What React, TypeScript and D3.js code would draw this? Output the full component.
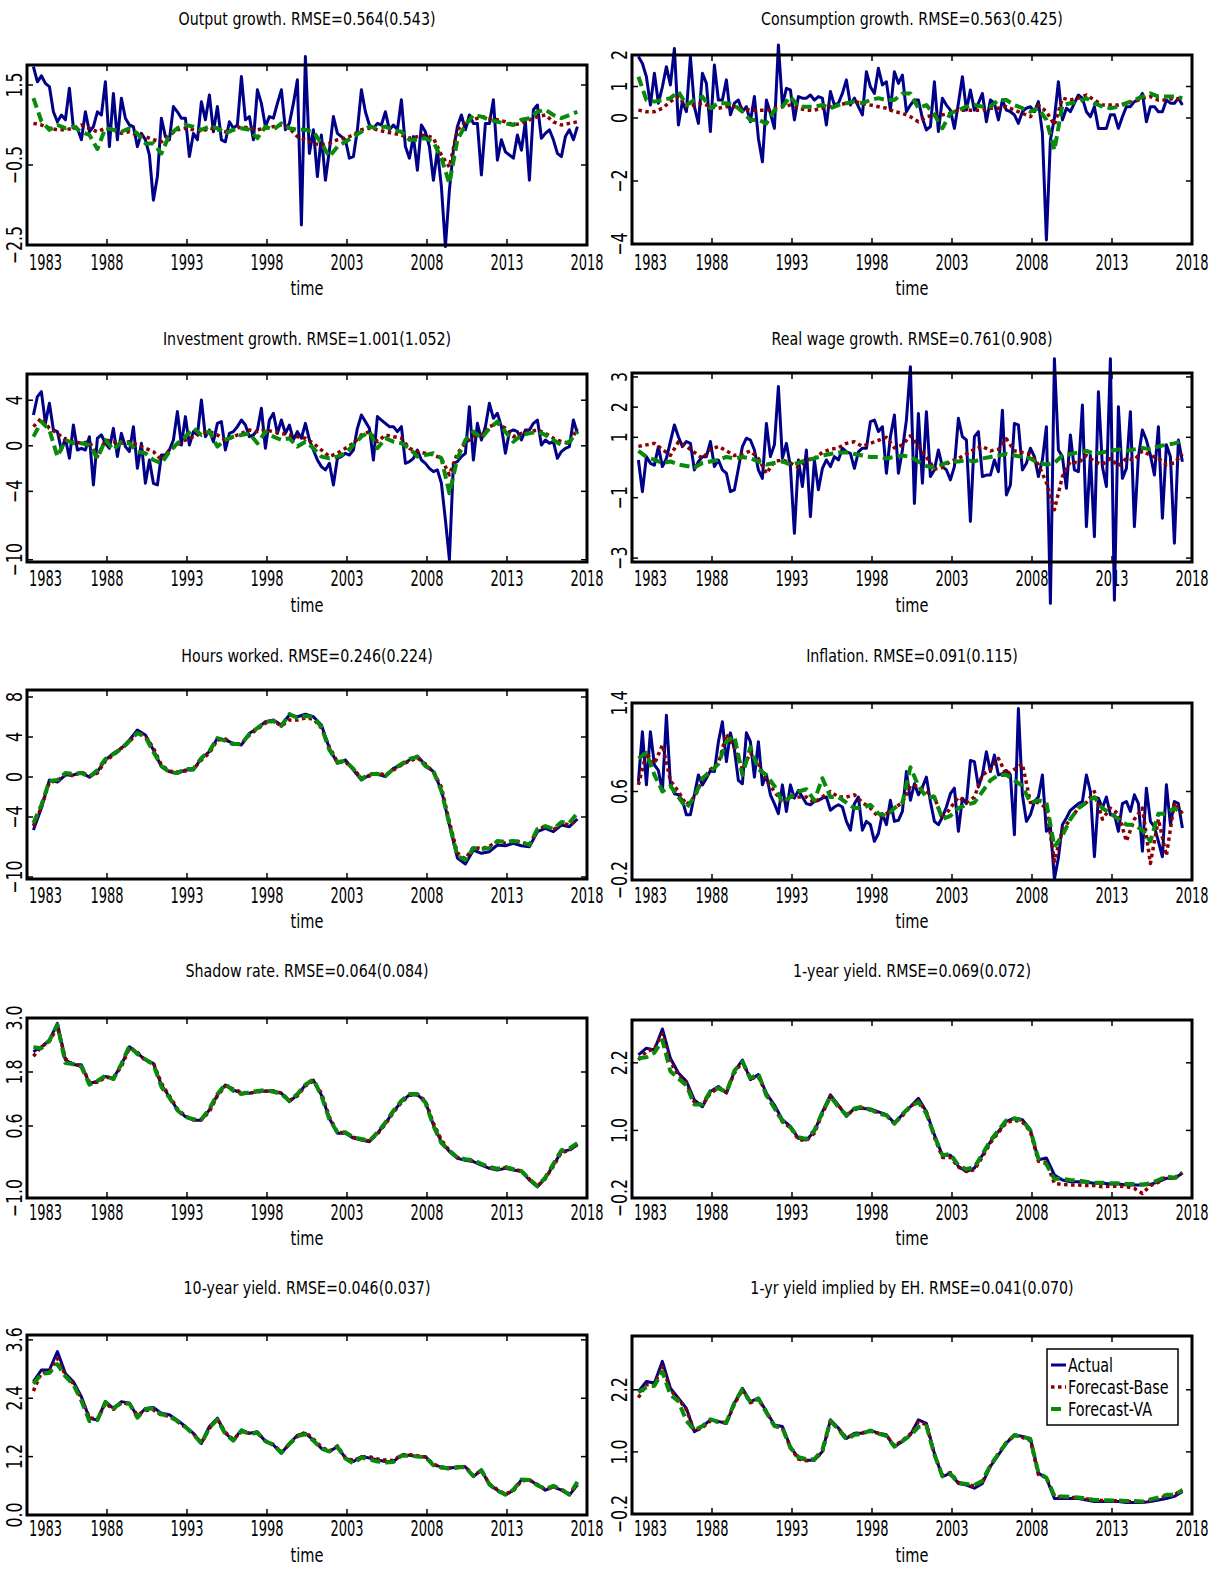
import React from 'react';
import * as d3 from 'd3';

// sample runs 1983Q2..2017Q2; growth series are quarterly readings, forecasts / smooth series half-yearly
const FIRST_DATE = 1983.4;
const LAST_DATE = 2017.4;
const xTickYears = [1983, 1988, 1993, 1998, 2003, 2008, 2013, 2018];

const outputActual = [
  1.96, 1.58, 1.73, 1.54, 1.46, 0.83, 0.58, 0.75,
  0.63, 1.42, 0.42, 0.42, 0.13, 0.83, 0.33, 0.46,
  0.83, 0.75, 1.58, -0.04, 1.29, 0.13, 1.17, 0.67,
  0.50, 0.46, -0.04, 0.29, 0.13, -0.25, -1.38, -0.79,
  0.67, 0.21, 0.13, 0.96, 0.83, 0.67, 0.67, -0.29,
  0.29, 0.13, 1.08, 0.63, 1.25, 0.33, 0.96, 0.13,
  0.08, 0.58, 0.42, 0.50, 1.71, 0.63, 0.71, 0.13,
  1.38, 1.04, 0.46, 0.71, 0.67, 1.04, 1.38, 0.38,
  0.54, 1.04, 1.63, -2.00, 2.21, -0.21, 0.38, -0.79,
  0.25, -0.88, -0.13, 0.71, 0.29, 0.21, 0.13, -0.33,
  -0.29, 0.38, 1.38, 0.83, 0.50, 0.42, 0.54, 0.50,
  0.83, 0.38, 0.50, 0.38, 1.13, -0.04, -0.33, 0.21,
  -0.63, 0.50, 0.33, -0.04, -0.88, -0.13, -1.04, -2.54,
  -1.13, -0.13, 0.46, 0.75, 0.38, 0.75, 0.54, 0.54,
  -0.75, 0.54, 0.54, 1.13, -0.38, 0.13, -0.17, -0.25,
  -0.33, 0.25, -0.13, 0.58, -0.88, 0.88, 1.00, 0.17,
  0.29, 0.38, 0.13, -0.21, -0.29, 0.21, 0.38, 0.13,
  0.46,
];
const outputBase = [
  0.54, 0.50, 0.42, 0.38, 0.38, 0.42, 0.50, 0.42, 0.33, 0.42,
  0.38, 0.29, 0.33, 0.25, 0.21, 0.13, 0.08, 0.25, 0.38, 0.42,
  0.38, 0.33, 0.42, 0.38, 0.33, 0.38, 0.46, 0.42, 0.38, 0.42,
  0.46, 0.50, 0.42, 0.21, 0.13, 0.04, 0.00, 0.04, 0.13, 0.17,
  0.25, 0.38, 0.42, 0.38, 0.33, 0.29, 0.25, 0.17, 0.21, 0.25,
  0.17, -0.25, -0.55, 0.38, 0.58, 0.63, 0.71, 0.67, 0.63, 0.58,
  0.50, 0.54, 0.63, 0.71, 0.75, 0.58, 0.50, 0.54, 0.58,
];
const outputVA = [
  1.17, 0.60, 0.38, 0.50, 0.42, 0.46, 0.33, 0.25, -0.10, 0.42,
  0.38, 0.33, 0.42, 0.29, 0.04, 0.04, -0.21, 0.25, 0.42, 0.50,
  0.46, 0.38, 0.46, 0.42, 0.29, 0.38, 0.42, 0.38, 0.17, 0.46,
  0.38, 0.54, 0.42, 0.38, 0.38, 0.33, 0.04, -0.29, -0.04, 0.08,
  0.21, 0.33, 0.46, 0.42, 0.46, 0.38, 0.33, 0.13, 0.13, 0.17,
  0.08, -0.33, -0.96, 0.13, 0.50, 0.75, 0.71, 0.63, 0.58, 0.54,
  0.50, 0.63, 0.67, 0.83, 0.88, 0.75, 0.67, 0.75, 0.83,
];

const consumptionActual = [
  1.95, 1.73, 1.31, 0.41, 1.42, 0.47, 0.99, 1.63,
  1.05, 2.21, -0.22, 0.52, 0.20, 1.95, 0.36, -0.17,
  1.42, 1.10, -0.43, 1.68, 0.57, 0.57, 1.21, 0.10,
  0.47, 0.57, 0.20, 0.36, -0.12, 0.68, -0.65, -1.39,
  0.57, 0.15, -0.33, 2.32, 0.41, 0.94, 0.89, -0.06,
  0.68, 0.63, 0.63, 0.73, 0.57, 0.68, 0.63, -0.22,
  0.84, 0.41, 0.47, 0.78, 1.21, 0.41, 0.63, 0.36,
  0.10, 1.47, 0.99, 0.78, 1.58, 1.05, 1.15, 0.25,
  1.47, 1.10, 1.36, 0.20, 0.41, 0.57, 0.57, -0.01,
  -0.38, -0.27, 1.15, -0.43, 0.63, 0.41, 0.25, -0.33,
  0.47, 1.31, 0.25, 0.89, 0.25, 0.47, 0.78, -0.12,
  0.57, 0.47, -0.06, 0.57, 0.25, 0.20, 0.10, -0.17,
  0.20, 0.31, 0.36, 0.20, 0.52, -0.49, -3.87, -0.70,
  -0.01, 1.15, -0.06, 0.31, 0.20, 0.47, 0.73, 0.63,
  0.20, 0.04, 0.36, -0.33, -0.33, -0.33, 0.10, 0.10,
  -0.33, 0.04, 0.36, 0.36, 0.52, 0.57, 0.78, -0.12,
  0.36, 0.36, 0.20, 0.20, 0.57, 0.47, 0.47, 0.63,
  0.41,
];
const consumptionBase = [
  0.25, 0.20, 0.20, 0.31, 0.52, 0.68, 0.36, 0.41, 0.47, 0.36,
  0.31, 0.36, 0.36, 0.31, 0.25, 0.25, 0.25, 0.31, 0.36, 0.41,
  0.31, 0.25, 0.25, 0.31, 0.36, 0.41, 0.47, 0.52, 0.47, 0.41,
  0.36, 0.31, 0.20, 0.15, 0.04, -0.12, 0.04, 0.10, 0.10, 0.15,
  0.25, 0.25, 0.25, 0.25, 0.31, 0.31, 0.36, 0.25, 0.15, 0.04,
  0.41, 0.20, -0.22, 0.63, 0.57, 0.63, 0.73, 0.57, 0.41, 0.41,
  0.41, 0.47, 0.52, 0.63, 0.68, 0.57, 0.57, 0.63, 0.57,
];
const consumptionVA = [
  1.31, 0.57, 0.52, 0.57, 0.63, 0.84, 0.41, 0.57, 0.68, 0.31,
  0.47, 0.47, 0.41, 0.20, -0.06, -0.06, -0.17, 0.25, 0.36, 0.68,
  0.36, 0.36, 0.36, 0.41, 0.31, 0.41, 0.47, 0.52, 0.47, 0.57,
  0.63, 0.57, 0.57, 0.78, 0.78, 0.31, 0.41, 0.10, -0.33, 0.15,
  0.25, 0.36, 0.41, 0.36, 0.36, 0.57, 0.57, 0.41, 0.31, 0.20,
  0.31, -0.06, -1.02, 0.41, 0.47, 0.52, 0.63, 0.47, 0.36, 0.31,
  0.36, 0.47, 0.57, 0.68, 0.78, 0.68, 0.68, 0.68, 0.63,
];

const investmentActual = [
  2.70, 4.31, 4.75, 1.97, 3.73, 1.39, 1.24, -0.37,
  0.66, -1.10, 1.82, -0.37, -0.22, -0.37, 0.80, -3.44,
  0.66, 0.95, 0.22, -0.22, 1.53, -0.95, 1.09, -0.07,
  -0.51, 1.68, -1.98, 0.22, -3.29, -1.25, -3.29, -3.44,
  -0.81, -0.81, -0.37, 0.51, 3.00, 0.07, 2.56, 0.07,
  1.24, 0.95, 4.02, 0.80, 1.39, 0.36, 1.97, 2.12,
  -0.37, 1.09, 1.24, 1.68, 2.26, 1.82, 0.80, 0.95,
  1.39, 3.29, -0.22, 2.26, 2.85, 1.09, 2.26, 1.09,
  1.82, 0.51, 1.24, 0.66, 1.97, 0.51, -0.37, -1.25,
  -1.83, -2.12, -1.54, -3.44, -1.10, -0.95, -0.66, -0.81,
  -0.37, 1.53, 2.70, 2.12, 1.53, -1.25, 2.56, 2.26,
  1.97, 1.68, 1.68, 1.24, 1.68, -1.54, -1.39, -1.10,
  -0.37, -1.25, -1.54, -1.98, -2.27, -2.12, -3.29, -6.51,
  -10.0, -1.54, -1.39, -0.95, -0.66, 3.43, -1.25, 1.97,
  0.51, 1.68, 3.73, 2.41, 2.85, 1.68, -0.66, 1.24,
  1.39, 1.24, 0.51, 1.39, 1.39, 1.97, 2.26, 0.07,
  0.51, 0.22, 0.36, -1.10, -0.51, -0.22, -0.07, 2.26,
  1.09,
];
const investmentBase = [
  1.68, 2.41, 1.53, 1.09, 0.51, 0.36, 0.22, 0.36, -0.95, 0.51,
  0.36, 0.22, 0.36, 0.07, -0.22, -0.51, -1.25, -0.37, 0.07, 0.51,
  0.80, 1.09, 1.24, 0.95, 0.51, 0.80, 1.09, 1.39, 1.24, 1.39,
  1.24, 1.09, 0.95, 0.80, 0.66, 0.22, -0.37, -0.95, -0.66, -0.22,
  0.22, 0.95, 1.24, 0.36, 0.95, 0.80, 0.66, -0.22, -0.51, -0.66,
  -0.81, -1.10, -2.56, -0.66, 0.22, 0.80, 0.95, 1.68, 1.97, 1.53,
  0.80, 1.09, 1.24, 1.39, 1.09, 0.66, 0.36, 0.22, 1.53,
];
const investmentVA = [
  0.80, 2.12, 1.39, -0.95, 0.51, 0.22, 0.22, 0.07, -1.10, 0.51,
  -0.37, 0.36, 0.22, -0.51, -0.66, -1.25, -1.54, -0.51, 0.22, 0.80,
  1.53, 0.95, 1.24, -0.07, 0.51, 0.80, 0.95, 1.09, 0.22, 1.24,
  0.80, 0.51, 0.66, -0.07, 0.36, -0.22, -0.95, -1.10, -0.95, -0.66,
  0.07, 0.80, 1.24, -0.22, 0.66, 0.36, 0.22, -0.22, -0.95, -0.81,
  -0.66, -1.10, -4.17, -1.10, 0.51, 1.24, 0.66, 1.53, 2.12, 1.24,
  0.36, 0.95, 1.09, 1.24, 0.95, 0.51, 0.07, 0.36, 1.24,
];

const realWageActual = [
  0.25, -0.80, 0.36, 0.14, 0.08, 0.69, 0.03, 0.30,
  0.86, 1.41, 1.02, 0.69, 0.86, 0.80, -0.08, 0.19,
  0.36, 0.36, 0.86, 0.03, 0.25, -0.08, -0.19, -0.80,
  -0.74, -0.03, 0.69, 0.97, 0.91, 0.58, -0.08, -0.36,
  1.46, 0.36, 0.75, 2.68, 0.30, 0.80, 0.03, -2.18,
  0.25, -0.63, 0.58, -1.63, 0.25, -0.74, -0.03, 0.25,
  0.03, 0.36, 0.25, 0.64, 0.52, 0.47, -0.03, 0.52,
  0.64, 0.64, 1.52, 1.57, 1.19, 1.35, -0.19, 1.02,
  1.74, -0.19, 0.58, 1.57, 3.34, -1.19, 1.79, -0.52,
  1.85, -0.30, -0.08, 0.58, 0.03, -0.08, -0.41, 0.03,
  1.63, 1.02, 0.91, -1.79, 1.02, 1.19, -0.30, -0.25,
  -0.25, 0.25, -0.14, 1.90, -0.91, -0.58, 1.46, 1.41,
  -0.08, 0.14, 0.64, 0.36, -0.30, 0.25, 1.35, -4.50,
  3.60, 0.58, 0.36, -0.69, 1.08, -0.08, -0.14, 2.07,
  -1.96, 0.41, -2.29, 2.51, 0.03, -0.63, 3.60, -4.40,
  2.01, -0.36, -0.03, 1.85, -1.96, 0.36, 1.24, 0.91,
  0.41, -0.25, 1.35, -1.68, 0.75, 0.36, -2.51, 0.91,
  0.19,
];
const realWageBase = [
  0.70, 0.75, 0.80, 0.60, 0.40, 0.85, 0.70, 0.50, 0.30, 0.60,
  0.70, 0.55, 0.40, 0.45, 0.55, 0.30, -0.20, 0.20, 0.25, 0.15,
  0.00, 0.25, 0.30, 0.50, 0.60, 0.65, 0.80, 0.85, 0.70, 0.80,
  0.90, 1.00, 0.65, 0.75, 1.05, 0.70, 0.35, -0.05, 0.00, 0.20,
  0.30, 0.45, 0.60, 0.70, 0.55, 0.60, 0.95, 0.55, 0.50, 0.45,
  0.10, -0.50, -1.40, -0.30, 0.20, 0.15, 0.40, 0.20, 0.10, 0.30,
  0.05, 0.30, 0.25, 0.55, 0.40, 0.30, 0.10, 0.15, 0.45,
];
const realWageVA = [
  0.55, 0.35, 0.25, 0.15, 0.20, 0.10, 0.05, 0.00, 0.15, 0.20,
  0.25, 0.35, 0.30, 0.35, 0.30, 0.20, 0.10, 0.15, 0.20, 0.10,
  0.15, 0.25, 0.30, 0.40, 0.45, 0.50, 0.50, 0.45, 0.40, 0.35,
  0.35, 0.30, 0.35, 0.40, 0.35, 0.20, 0.05, 0.00, 0.10, 0.20,
  0.20, 0.25, 0.20, 0.30, 0.35, 0.40, 0.45, 0.40, 0.35, 0.30,
  0.15, 0.10, 0.15, 0.40, 0.45, 0.50, 0.55, 0.45, 0.50, 0.55,
  0.60, 0.55, 0.60, 0.65, 0.60, 0.70, 0.75, 0.80, 0.88,
];

const hoursActual = [
  -5.30, -3.10, -0.30, -0.50, 0.20, 0.20, 0.47, -0.03, 0.53, 1.70,
  2.37, 2.87, 3.70, 4.70, 4.20, 2.70, 1.03, 0.53, 0.37, 0.70,
  0.70, 1.87, 2.53, 3.87, 3.70, 3.37, 3.20, 4.37, 4.87, 5.53,
  5.70, 5.20, 6.20, 6.03, 6.27, 6.03, 5.20, 2.87, 1.37, 1.70,
  0.70, -0.30, 0.20, 0.30, 0.03, 0.87, 1.20, 1.70, 2.10, 1.20,
  0.53, -1.30, -4.80, -8.10, -8.70, -7.30, -7.63, -7.47, -6.80, -6.87,
  -6.63, -6.87, -6.97, -5.47, -5.13, -5.47, -4.80, -4.97, -4.20,
];
const hoursBase = [
  -4.90, -3.00, -0.50, -0.40, 0.30, 0.10, 0.50, 0.10, 0.40, 1.60,
  2.20, 2.90, 3.50, 4.50, 4.10, 2.90, 1.20, 0.60, 0.50, 0.60,
  0.80, 1.70, 2.40, 3.70, 3.80, 3.20, 3.30, 4.20, 4.80, 5.40,
  5.60, 5.10, 5.70, 5.70, 5.90, 5.80, 4.90, 3.00, 1.50, 1.50,
  0.80, -0.10, 0.10, 0.40, 0.20, 0.70, 1.20, 1.60, 1.90, 1.30,
  0.50, -1.00, -4.50, -7.60, -8.20, -7.00, -7.20, -6.90, -6.50, -6.60,
  -6.40, -6.50, -6.80, -5.30, -4.90, -5.30, -4.60, -4.80, -4.30,
];
const hoursVA = [
  -4.60, -2.80, -0.40, -0.30, 0.40, 0.30, 0.40, 0.00, 0.70, 1.80,
  2.30, 2.80, 3.60, 4.40, 4.00, 2.50, 1.10, 0.50, 0.40, 0.80,
  0.80, 1.90, 2.60, 3.90, 3.60, 3.30, 3.30, 4.30, 4.90, 5.50,
  5.60, 5.10, 6.30, 5.90, 6.10, 6.00, 5.00, 2.70, 1.50, 1.60,
  0.80, -0.20, 0.30, 0.30, 0.10, 0.80, 1.30, 1.80, 2.00, 1.10,
  0.60, -1.40, -4.70, -7.90, -8.30, -7.10, -7.20, -7.10, -6.40, -6.50,
  -6.40, -6.50, -6.80, -5.20, -4.90, -5.20, -4.50, -4.60, -3.60,
];

const inflationActual = [
  0.69, 1.14, 0.66, 1.14, 0.84, 0.79, 0.60, 1.29,
  0.67, 0.58, 0.57, 0.52, 0.39, 0.39, 0.57, 0.75,
  0.66, 0.72, 0.79, 0.78, 1.05, 1.23, 0.87, 1.13,
  0.98, 0.70, 0.67, 1.13, 1.05, 0.73, 1.05, 0.66,
  0.75, 0.57, 0.49, 0.40, 0.66, 0.42, 0.66, 0.54,
  0.61, 0.55, 0.49, 0.48, 0.51, 0.52, 0.54, 0.55,
  0.43, 0.46, 0.48, 0.46, 0.33, 0.25, 0.49, 0.55,
  0.25, 0.33, 0.30, 0.15, 0.22, 0.40, 0.30, 0.52,
  0.33, 0.34, 0.42, 0.78, 0.52, 0.67, 0.57, 0.64,
  0.73, 0.51, 0.33, 0.30, 0.37, 0.46, 0.58, 0.63,
  0.24, 0.54, 0.49, 0.88, 0.87, 0.64, 0.75, 0.96,
  0.78, 0.93, 0.75, 0.76, 0.79, 0.75, 0.21, 1.35,
  0.57, 0.33, 0.39, 0.51, 0.55, 0.75, 0.24, 0.28,
  -0.19, 0.00, 0.30, 0.36, 0.43, 0.46, 0.49, 0.51,
  0.75, 0.60, 0.01, 0.54, 0.45, 0.55, 0.39, 0.39,
  0.24, 0.49, 0.51, 0.42, 0.57, 0.49, 0.06, 0.63,
  0.33, 0.28, 0.15, 0.01, 0.66, 0.30, 0.51, 0.49,
  0.27,
];
const inflationBase = [
  0.66, 0.95, 0.85, 1.02, 0.70, 0.60, 0.48, 0.55, 0.70, 0.80,
  0.85, 1.12, 1.00, 0.80, 0.95, 0.85, 0.70, 0.60, 0.50, 0.55,
  0.55, 0.55, 0.50, 0.55, 0.60, 0.55, 0.55, 0.57, 0.50, 0.45,
  0.37, 0.40, 0.45, 0.50, 0.65, 0.65, 0.60, 0.55, 0.35, 0.45,
  0.55, 0.50, 0.55, 0.75, 0.80, 0.90, 0.75, 0.80, 0.85, 0.50,
  0.50, 0.45, -0.03, 0.25, 0.35, 0.45, 0.50, 0.60, 0.35, 0.45,
  0.40, 0.15, 0.35, 0.45, -0.05, 0.35, 0.02, 0.50, 0.40,
];
const inflationVA = [
  0.90, 0.95, 0.75, 0.60, 0.65, 0.55, 0.45, 0.55, 0.72, 0.78,
  0.85, 1.05, 1.10, 0.75, 1.00, 0.80, 0.75, 0.65, 0.50, 0.55,
  0.60, 0.62, 0.52, 0.72, 0.55, 0.55, 0.50, 0.45, 0.45, 0.48,
  0.40, 0.38, 0.45, 0.50, 0.82, 0.65, 0.55, 0.55, 0.35, 0.38,
  0.45, 0.48, 0.50, 0.60, 0.70, 0.75, 0.75, 0.70, 0.65, 0.50,
  0.52, 0.50, 0.10, 0.20, 0.35, 0.45, 0.50, 0.55, 0.45, 0.40,
  0.35, 0.30, 0.30, 0.25, 0.15, 0.40, 0.40, 0.45, 0.40,
];

const shadowActual = [
  2.25, 2.36, 2.51, 2.88, 2.07, 1.96, 1.96, 1.55, 1.59, 1.70,
  1.66, 1.96, 2.36, 2.22, 2.07, 1.99, 1.51, 1.25, 0.96, 0.81,
  0.73, 0.73, 0.96, 1.29, 1.51, 1.40, 1.33, 1.33, 1.36, 1.38,
  1.38, 1.33, 1.14, 1.29, 1.51, 1.62, 1.29, 0.77, 0.44, 0.44,
  0.33, 0.29, 0.25, 0.44, 0.66, 0.92, 1.14, 1.29, 1.29, 1.14,
  0.62, 0.25, 0.03, -0.12, -0.16, -0.19, -0.27, -0.34, -0.38, -0.34,
  -0.38, -0.41, -0.60, -0.75, -0.56, -0.27, 0.03, 0.07, 0.18,
];
const shadowBase = [
  2.15, 2.36, 2.48, 2.80, 2.10, 1.96, 1.94, 1.58, 1.57, 1.68,
  1.68, 1.92, 2.33, 2.24, 2.05, 2.00, 1.55, 1.27, 0.98, 0.82,
  0.74, 0.74, 0.92, 1.27, 1.49, 1.42, 1.35, 1.33, 1.36, 1.37,
  1.38, 1.33, 1.17, 1.27, 1.49, 1.60, 1.33, 0.80, 0.46, 0.45,
  0.35, 0.30, 0.27, 0.42, 0.64, 0.90, 1.12, 1.28, 1.30, 1.16,
  0.66, 0.29, 0.05, -0.10, -0.15, -0.18, -0.25, -0.33, -0.36, -0.33,
  -0.36, -0.40, -0.58, -0.73, -0.57, -0.29, 0.01, 0.06, 0.20,
];
const shadowVA = [
  2.35, 2.33, 2.50, 2.85, 2.00, 1.98, 1.92, 1.52, 1.60, 1.72,
  1.64, 1.98, 2.38, 2.20, 2.08, 1.97, 1.47, 1.23, 0.95, 0.80,
  0.75, 0.75, 0.98, 1.31, 1.53, 1.38, 1.31, 1.35, 1.38, 1.40,
  1.36, 1.31, 1.16, 1.31, 1.52, 1.64, 1.27, 0.75, 0.46, 0.46,
  0.35, 0.31, 0.27, 0.46, 0.68, 0.94, 1.16, 1.31, 1.31, 1.12,
  0.60, 0.22, 0.05, -0.10, -0.14, -0.16, -0.24, -0.31, -0.35, -0.31,
  -0.36, -0.40, -0.58, -0.74, -0.54, -0.24, 0.06, 0.10, 0.22,
];

const oneYearActual = [
  2.34, 2.46, 2.43, 2.80, 2.28, 2.02, 1.87, 1.54, 1.42, 1.69,
  1.78, 1.66, 2.05, 2.25, 1.90, 1.99, 1.66, 1.45, 1.19, 1.07,
  0.86, 0.83, 0.98, 1.33, 1.63, 1.45, 1.25, 1.39, 1.39, 1.38,
  1.33, 1.28, 1.13, 1.28, 1.42, 1.57, 1.33, 0.92, 0.56, 0.56,
  0.36, 0.27, 0.33, 0.56, 0.80, 0.98, 1.16, 1.22, 1.19, 1.01,
  0.48, 0.51, 0.21, 0.12, 0.09, 0.09, 0.08, 0.06, 0.06, 0.05,
  0.05, 0.03, 0.03, 0.03, 0.04, 0.09, 0.15, 0.15, 0.24,
];
const oneYearBase = [
  2.25, 2.40, 2.45, 2.72, 2.22, 1.98, 1.85, 1.50, 1.45, 1.66,
  1.75, 1.68, 2.02, 2.22, 1.92, 1.95, 1.65, 1.40, 1.15, 1.05,
  0.84, 0.82, 0.95, 1.30, 1.60, 1.44, 1.27, 1.37, 1.40, 1.36,
  1.32, 1.27, 1.12, 1.26, 1.42, 1.53, 1.33, 0.88, 0.52, 0.52,
  0.35, 0.27, 0.30, 0.53, 0.78, 0.96, 1.14, 1.18, 1.15, 0.98,
  0.45, 0.43, 0.06, 0.04, 0.03, 0.03, 0.02, 0.02, 0.00, 0.01,
  0.01, 0.00, -0.03, -0.12, 0.02, 0.08, 0.18, 0.14, 0.25,
];
const oneYearVA = [
  2.28, 2.30, 2.38, 2.60, 2.05, 1.92, 1.80, 1.46, 1.46, 1.70,
  1.75, 1.68, 2.06, 2.22, 1.93, 2.00, 1.62, 1.40, 1.17, 1.05,
  0.88, 0.85, 1.00, 1.32, 1.60, 1.42, 1.27, 1.39, 1.42, 1.37,
  1.30, 1.27, 1.12, 1.29, 1.43, 1.50, 1.30, 0.90, 0.56, 0.58,
  0.38, 0.31, 0.35, 0.58, 0.82, 1.00, 1.18, 1.21, 1.18, 1.00,
  0.50, 0.40, 0.14, 0.14, 0.12, 0.11, 0.09, 0.07, 0.07, 0.06,
  0.06, 0.05, 0.05, 0.04, 0.06, 0.12, 0.18, 0.16, 0.25,
];

const tenYearActual = [
  2.74, 2.98, 2.98, 3.36, 2.91, 2.74, 2.43, 1.99, 1.95, 2.33,
  2.19, 2.33, 2.30, 2.02, 2.19, 2.21, 2.09, 2.06, 1.95, 1.82,
  1.68, 1.47, 1.82, 1.99, 1.68, 1.54, 1.75, 1.68, 1.71, 1.51,
  1.44, 1.27, 1.47, 1.64, 1.68, 1.54, 1.37, 1.30, 1.41, 1.17,
  1.10, 1.20, 1.17, 1.13, 1.10, 1.10, 1.23, 1.23, 1.20, 1.20,
  1.03, 0.99, 0.96, 0.99, 0.99, 0.79, 0.93, 0.62, 0.51, 0.41,
  0.51, 0.72, 0.72, 0.62, 0.51, 0.58, 0.51, 0.41, 0.62,
];
const tenYearBase = [
  2.55, 2.92, 2.95, 3.22, 2.88, 2.70, 2.40, 2.00, 1.97, 2.30,
  2.17, 2.31, 2.28, 2.05, 2.15, 2.16, 2.05, 2.04, 1.92, 1.80,
  1.67, 1.48, 1.78, 1.97, 1.70, 1.55, 1.72, 1.68, 1.70, 1.52,
  1.45, 1.29, 1.45, 1.62, 1.70, 1.56, 1.40, 1.31, 1.42, 1.18,
  1.12, 1.19, 1.20, 1.15, 1.13, 1.12, 1.24, 1.24, 1.22, 1.19,
  1.05, 0.97, 0.97, 0.97, 1.00, 0.80, 0.92, 0.64, 0.52, 0.43,
  0.50, 0.70, 0.72, 0.63, 0.52, 0.58, 0.52, 0.43, 0.62,
];
const tenYearVA = [
  2.70, 2.90, 2.92, 3.10, 2.85, 2.68, 2.35, 1.93, 1.95, 2.32,
  2.20, 2.30, 2.29, 2.00, 2.18, 2.19, 2.07, 2.03, 1.93, 1.81,
  1.66, 1.47, 1.80, 1.96, 1.66, 1.53, 1.73, 1.67, 1.69, 1.52,
  1.44, 1.28, 1.46, 1.62, 1.66, 1.53, 1.36, 1.31, 1.40, 1.16,
  1.06, 1.18, 1.14, 1.10, 1.08, 1.09, 1.22, 1.22, 1.20, 1.19,
  1.02, 0.98, 0.95, 0.98, 0.98, 0.80, 0.92, 0.63, 0.50, 0.42,
  0.52, 0.73, 0.72, 0.61, 0.54, 0.60, 0.53, 0.42, 0.68,
];

const ehActual = [
  2.17, 2.36, 2.33, 2.75, 2.23, 2.04, 1.84, 1.39, 1.49, 1.62,
  1.59, 1.55, 1.94, 2.23, 1.97, 2.04, 1.78, 1.52, 1.49, 1.10,
  0.88, 0.84, 0.84, 1.01, 1.62, 1.46, 1.26, 1.36, 1.36, 1.42,
  1.36, 1.33, 1.10, 1.20, 1.33, 1.62, 1.55, 0.97, 0.52, 0.59,
  0.39, 0.36, 0.30, 0.39, 0.72, 0.94, 1.17, 1.33, 1.30, 1.26,
  0.59, 0.49, 0.10, 0.10, 0.10, 0.10, 0.07, 0.04, 0.04, 0.04,
  0.04, 0.02, 0.02, 0.02, 0.04, 0.07, 0.10, 0.14, 0.23,
];
const ehBase = [
  2.05, 2.30, 2.30, 2.65, 2.20, 2.02, 1.82, 1.40, 1.47, 1.60,
  1.58, 1.56, 1.92, 2.20, 1.95, 2.02, 1.78, 1.50, 1.47, 1.08,
  0.86, 0.83, 0.85, 1.00, 1.58, 1.45, 1.27, 1.35, 1.37, 1.40,
  1.36, 1.32, 1.12, 1.22, 1.35, 1.58, 1.53, 0.95, 0.55, 0.60,
  0.41, 0.37, 0.34, 0.42, 0.73, 0.96, 1.18, 1.32, 1.28, 1.22,
  0.56, 0.50, 0.14, 0.12, 0.12, 0.11, 0.09, 0.07, 0.06, 0.06,
  0.05, 0.04, 0.04, 0.03, 0.06, 0.10, 0.15, 0.17, 0.27,
];
const ehVA = [
  2.15, 2.25, 2.28, 2.55, 2.10, 1.98, 1.60, 1.42, 1.50, 1.63,
  1.58, 1.57, 1.95, 2.21, 1.96, 2.03, 1.76, 1.50, 1.46, 1.08,
  0.90, 0.86, 0.86, 1.04, 1.60, 1.44, 1.24, 1.33, 1.35, 1.41,
  1.35, 1.31, 1.10, 1.21, 1.32, 1.48, 1.50, 0.95, 0.53, 0.57,
  0.40, 0.38, 0.36, 0.44, 0.74, 0.96, 1.18, 1.32, 1.30, 1.24,
  0.60, 0.50, 0.15, 0.14, 0.13, 0.12, 0.10, 0.07, 0.07, 0.06,
  0.06, 0.05, 0.05, 0.04, 0.08, 0.12, 0.17, 0.17, 0.26,
];

const seriesNames = ['Actual', 'Forecast-Base', 'Forecast-VA'];

// ---------- layout ----------
const FONT = "'DejaVu Sans', sans-serif";
const COL = { actual: '#000088', base: '#8b0000', va: '#0a8a0a' };
const STYLES = [
  { color: COL.actual, width: 3, dash: undefined as string | undefined },
  { color: COL.base, width: 3.5, dash: '3.5 3.5' },
  { color: COL.va, width: 4, dash: '10 5' },
];

const columns = [{ x0: 27, x1: 587 }, { x0: 632, x1: 1192 }];
const rows = [
  { title: 18, tick: 262, time: 289 },
  { title: 338, tick: 578, time: 606 },
  { title: 655, tick: 895, time: 922 },
  { title: 970, tick: 1212, time: 1239 },
  { title: 1287, tick: 1528, time: 1556 },
];

interface PanelDef {
  title: string;
  series: number[][];
  domain: [number, number];
  ticks: number[];
  fmt: string;
  row: number;
  col: number;
  top: number;
  bottom: number;
  legend?: boolean;
}

const panels: PanelDef[] = [
  { title: 'Output growth. RMSE=0.564(0.543)', series: [outputActual, outputBase, outputVA], domain: [-2.5, 2.0], ticks: [-2.5, -0.5, 1.5], fmt: '.1f', row: 0, col: 0, top: 65, bottom: 245 },
  { title: 'Consumption growth. RMSE=0.563(0.425)', series: [consumptionActual, consumptionBase, consumptionVA], domain: [-4, 2], ticks: [-4, -2, 0, 1, 2], fmt: 'd', row: 0, col: 1, top: 55, bottom: 244 },
  { title: 'Investment growth. RMSE=1.001(1.052)', series: [investmentActual, investmentBase, investmentVA], domain: [-10.2, 6.3], ticks: [-10, -4, 0, 4], fmt: 'd', row: 1, col: 0, top: 374, bottom: 562 },
  { title: 'Real wage growth. RMSE=0.761(0.908)', series: [realWageActual, realWageBase, realWageVA], domain: [-3.13, 3.13], ticks: [-3, -1, 1, 2, 3], fmt: 'd', row: 1, col: 1, top: 373, bottom: 562 },
  { title: 'Hours worked. RMSE=0.246(0.224)', series: [hoursActual, hoursBase, hoursVA], domain: [-10.2, 8.7], ticks: [-10, -4, 0, 4, 8], fmt: 'd', row: 2, col: 0, top: 690, bottom: 879 },
  { title: 'Inflation. RMSE=0.091(0.115)', series: [inflationActual, inflationBase, inflationVA], domain: [-0.2, 1.4], ticks: [-0.2, 0.6, 1.4], fmt: '.1f', row: 2, col: 1, top: 703, bottom: 880 },
  { title: 'Shadow rate. RMSE=0.064(0.084)', series: [shadowActual, shadowBase, shadowVA], domain: [-1.0, 3.0], ticks: [-1.0, 0.6, 1.8, 3.0], fmt: '.1f', row: 3, col: 0, top: 1018, bottom: 1198 },
  { title: '1-year yield. RMSE=0.069(0.072)', series: [oneYearActual, oneYearBase, oneYearVA], domain: [-0.2, 2.96], ticks: [-0.2, 1.0, 2.2], fmt: '.1f', row: 3, col: 1, top: 1020, bottom: 1198 },
  { title: '10-year yield. RMSE=0.046(0.037)', series: [tenYearActual, tenYearBase, tenYearVA], domain: [0, 3.7], ticks: [0, 1.2, 2.4, 3.6], fmt: '.1f', row: 4, col: 0, top: 1335, bottom: 1515 },
  { title: '1-yr yield implied by EH. RMSE=0.041(0.070)', series: [ehActual, ehBase, ehVA], domain: [-0.2, 3.24], ticks: [-0.2, 1.0, 2.2], fmt: '.1f', row: 4, col: 1, top: 1336, bottom: 1514, legend: true },
];

// narrow (squeezed) text, to mimic the plotting package's stroke font
const NText: React.FC<{
  x: number; y: number; size: number; squeeze: number; anchor?: string; rotate?: number; central?: boolean;
  children: React.ReactNode;
}> = ({ x, y, size, squeeze, anchor = 'start', rotate = 0, central, children }) => (
  <g transform={`translate(${x},${y}) rotate(${rotate}) scale(${squeeze},1)`}>
    <text textAnchor={anchor} dominantBaseline={central ? 'central' : undefined}
      fontSize={size} fontFamily={FONT} fill="#000">{children}</text>
  </g>
);

const Panel: React.FC<{ p: PanelDef }> = ({ p }) => {
  const { x0, x1 } = columns[p.col];
  const r = rows[p.row];
  const x = d3.scaleLinear().domain([1983, 2018]).range([x0, x1]);
  const y = d3.scaleLinear().domain(p.domain).range([p.bottom, p.top]);
  const fmt = d3.format(p.fmt);
  const cx = (x0 + x1) / 2;
  const tickLen = 6;

  const path = (vals: number[]) => {
    const step = (LAST_DATE - FIRST_DATE) / (vals.length - 1);
    return d3.line<number>()
      .x((_, i) => x(FIRST_DATE + i * step))
      .y(v => y(v))(vals) || '';
  };

  const legendX = x1 - 145;
  const legendY = p.top + 13;

  return (
    <g>
      <NText x={cx} y={r.title + 7} size={18} squeeze={0.79} anchor="middle">{p.title}</NText>

      {xTickYears.map(t => (
        <g key={'xt' + t}>
          <line x1={x(t)} x2={x(t)} y1={p.bottom} y2={p.bottom - tickLen} stroke="#000" strokeWidth={1.5} />
          <line x1={x(t)} x2={x(t)} y1={p.top} y2={p.top + tickLen} stroke="#000" strokeWidth={1.5} />
          <NText x={t === 1983 ? x0 + 2 : x(t)} y={r.tick + 8} size={21} squeeze={0.62}
            anchor={t === 1983 ? 'start' : 'middle'}>{t}</NText>
        </g>
      ))}
      {p.ticks.map(v => (
        <g key={'yt' + v}>
          <line x1={x0} x2={x0 + tickLen} y1={y(v)} y2={y(v)} stroke="#000" strokeWidth={1.5} />
          <line x1={x1} x2={x1 - tickLen} y1={y(v)} y2={y(v)} stroke="#000" strokeWidth={1.5} />
          <NText x={x0 - 12} y={y(v)} size={21} squeeze={0.75} anchor="middle" rotate={-90} central>{fmt(v)}</NText>
        </g>
      ))}
      <NText x={cx} y={r.time + 6} size={20} squeeze={0.73} anchor="middle">time</NText>

      {p.series.map((vals, k) => (
        <path key={k} d={path(vals)} fill="none" stroke={STYLES[k].color}
          strokeWidth={STYLES[k].width} strokeDasharray={STYLES[k].dash} strokeLinejoin="round" />
      ))}

      <rect x={x0} y={p.top} width={x1 - x0} height={p.bottom - p.top} fill="none" stroke="#000" strokeWidth={3} />

      {p.legend && (
        <g>
          <rect x={legendX} y={legendY} width={131} height={76} fill="#fff" stroke="#000" strokeWidth={1.5} />
          {seriesNames.map((name, k) => (
            <g key={name}>
              <line x1={legendX + 4} x2={legendX + 19} y1={legendY + 16 + k * 22} y2={legendY + 16 + k * 22}
                stroke={STYLES[k].color} strokeWidth={STYLES[k].width} strokeDasharray={STYLES[k].dash} />
              <NText x={legendX + 21} y={legendY + 23 + k * 22} size={20} squeeze={0.72}>{name}</NText>
            </g>
          ))}
        </g>
      )}
    </g>
  );
};

export default function App() {
  return (
    <svg width={1222} height={1570} style={{ position: 'absolute', left: 0, top: 0, background: '#fff' }}>
      <rect width={1222} height={1570} fill="#fff" />
      {panels.map(p => <Panel key={p.title} p={p} />)}
    </svg>
  );
}
